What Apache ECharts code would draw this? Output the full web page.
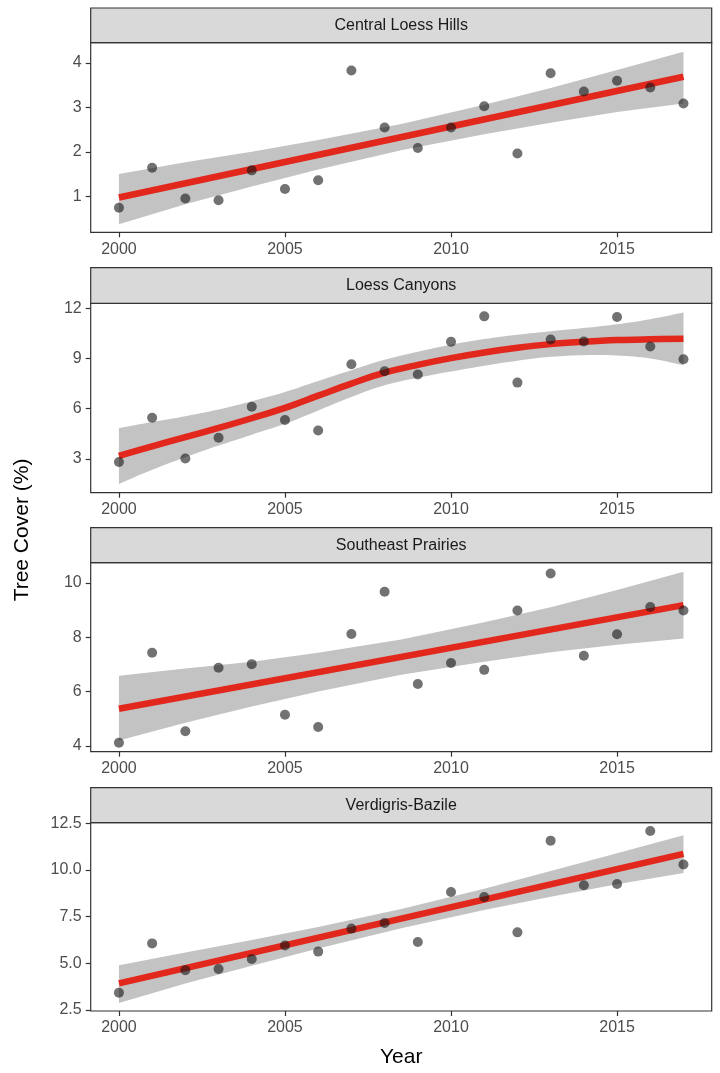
<!DOCTYPE html>
<html><head><meta charset="utf-8">
<script src="https://cdn.jsdelivr.net/npm/echarts@6/dist/echarts.min.js"></script>
<style>html,body{margin:0;padding:0;background:#fff}#c{width:720px;height:1073px}</style>
</head><body><div id="c"></div>
<script>
// ---------- data ----------
const years = [2000,2001,2002,2003,2004,2005,2006,2007,2008,2009,2010,2011,2012,2013,2014,2015,2016,2017];
const panelTitles = ['Central Loess Hills','Loess Canyons','Southeast Prairies','Verdigris-Bazile'];

const centralPoints   = [0.75,1.65,0.96,0.92,1.59,1.17,1.37,3.83,2.55,2.09,2.55,3.03,1.97,3.77,3.36,3.60,3.45,3.09];
const canyonsPoints   = [2.82,5.46,3.02,4.26,6.12,5.32,4.70,8.66,8.24,8.04,10.00,11.52,7.56,10.14,10.02,11.48,9.72,8.96];
const prairiesPoints  = [4.12,7.43,4.54,6.88,7.01,5.15,4.70,8.12,9.67,6.28,7.05,6.80,8.98,10.34,7.32,8.11,9.11,8.98];
const verdigrisPoints = [3.43,6.07,4.63,4.70,5.23,5.96,5.63,6.86,7.16,6.14,8.82,8.55,6.66,11.57,9.18,9.25,12.09,10.29];

// straight trend lines (ends)
const trendYears = [2000, 2017];
const centralTrend   = [0.98, 3.69];
const prairiesTrend  = [5.37, 9.18];
const verdigrisTrend = [3.93, 10.86];

// confidence bands of linear fits
const bandYears = [2000, 2002, 2004, 2006, 2008.5, 2011, 2013, 2015, 2017];
const centralLower   = [0.38, 0.83, 1.23, 1.61, 2.04, 2.40, 2.66, 2.90, 3.09];
const centralUpper   = [1.51, 1.77, 2.01, 2.27, 2.63, 3.06, 3.44, 3.84, 4.25];
const prairiesLower  = [4.20, 4.85, 5.45, 6.00, 6.62, 7.10, 7.45, 7.72, 7.95];
const prairiesUpper  = [6.58, 6.85, 7.10, 7.43, 7.92, 8.55, 9.10, 9.74, 10.41];
const verdigrisLower = [2.88, 3.92, 4.87, 5.80, 6.88, 7.86, 8.56, 9.23, 9.84];
const verdigrisUpper = [4.90, 5.58, 6.25, 6.95, 7.91, 9.00, 9.94, 10.90, 11.86];

// loess curve + band for Loess Canyons (per year)
const canyonsFit   = [3.18,3.75,4.30,4.85,5.43,6.05,6.78,7.50,8.15,8.62,9.02,9.36,9.64,9.86,10.00,10.10,10.15,10.18];
const canyonsLower = [1.50,2.35,3.10,3.80,4.45,5.10,5.90,6.70,7.40,7.85,8.22,8.57,8.87,9.10,9.20,9.18,9.00,8.60];
const canyonsUpper = [4.83,5.20,5.55,5.95,6.45,7.00,7.66,8.30,8.92,9.40,9.82,10.16,10.42,10.63,10.82,11.05,11.35,11.75];

// axis tick values and labels
const xTicks = [2000, 2005, 2010, 2015];
const yTicks = [[1,2,3,4],[3,6,9,12],[4,6,8,10],[2.5,5,7.5,10,12.5]];
const yTickLabels = [['1','2','3','4'],['3','6','9','12'],['4','6','8','10'],['2.5','5.0','7.5','10.0','12.5']];
const yRanges = [[0.2,4.455],[0.98,12.3],[3.79,10.74],[2.45,12.53]];
const xRange = [1999.15, 2017.85];

// ---------- layout ----------
const plotLeft = 90.7, plotRight = 711.7;
const stripTops = [8, 267.7, 527.7, 787.7];
const plotTops = [42.7, 303.3, 562.7, 822.7];
const plotBottoms = [232.3, 492.7, 751.7, 1011];

const panels = [
  {pts: centralPoints, line: {xs: trendYears, ys: centralTrend}, band: {xs: bandYears, lo: centralLower, hi: centralUpper}, smooth: 0},
  {pts: canyonsPoints, line: {xs: years, ys: canyonsFit}, band: {xs: years, lo: canyonsLower, hi: canyonsUpper}, smooth: 0.4},
  {pts: prairiesPoints, line: {xs: trendYears, ys: prairiesTrend}, band: {xs: bandYears, lo: prairiesLower, hi: prairiesUpper}, smooth: 0},
  {pts: verdigrisPoints, line: {xs: trendYears, ys: verdigrisTrend}, band: {xs: bandYears, lo: verdigrisLower, hi: verdigrisUpper}, smooth: 0}
];

const RED = '#e2271c', BAND = '#c3c3c3', AXC = '#333333', LABC = '#4d4d4d';
const FONT = '"Liberation Sans", Arial, Helvetica, sans-serif';

const grid = [], xAxis = [], yAxis = [], series = [], graphic = [];
panels.forEach((p, i) => {
  grid.push({left: plotLeft, width: plotRight - plotLeft, top: plotTops[i], height: plotBottoms[i] - plotTops[i],
    show: true, borderColor: AXC, borderWidth: 1.2, backgroundColor: '#fff'});
  xAxis.push({type: 'value', gridIndex: i, min: xRange[0], max: xRange[1],
    axisLine: {show: false}, splitLine: {show: false},
    axisTick: {show: true, length: 5, lineStyle: {color: AXC, width: 1.2}, customValues: xTicks},
    axisLabel: {show: true, color: LABC, fontSize: 16, fontFamily: FONT, margin: 9, customValues: xTicks,
      formatter: v => String(Math.round(v))}});
  const labs = yTickLabels[i], tv = yTicks[i];
  yAxis.push({type: 'value', gridIndex: i, min: yRanges[i][0], max: yRanges[i][1],
    axisLine: {show: false}, splitLine: {show: false},
    axisTick: {show: true, length: 5, lineStyle: {color: AXC, width: 1.2}, customValues: tv},
    axisLabel: {show: true, color: LABC, fontSize: 16, fontFamily: FONT, margin: 9, customValues: tv,
      formatter: v => { const k = tv.findIndex(t => Math.abs(t - v) < 1e-6); return k >= 0 ? labs[k] : ''; }}});

  // confidence band polygon (corners duplicated so smoothing keeps the ends square)
  const rows = p.band.xs.map((x, k) => [x, p.band.lo[k], p.band.hi[k]]);
  const sm = p.smooth;
  series.push({type: 'custom', xAxisIndex: i, yAxisIndex: i, z: 1, silent: true, clip: true,
    data: rows, encode: {x: 0, y: [1, 2]},
    renderItem: (params, api) => {
      if (params.dataIndex !== 0) return null;
      const up = rows.map(r => api.coord([r[0], r[2]]));
      const lo = rows.map(r => api.coord([r[0], r[1]])).reverse();
      let pts;
      if (sm) {
        pts = [up[0]].concat(up, [up[up.length - 1]], [lo[0]], lo, [lo[lo.length - 1]]);
      } else {
        pts = up.concat(lo);
      }
      return {type: 'polygon', shape: {points: pts, smooth: sm || 0}, style: {fill: BAND}};
    }});
  // fitted line
  series.push({type: 'line', xAxisIndex: i, yAxisIndex: i, z: 2, silent: true, showSymbol: false, symbol: 'none',
    smooth: sm ? sm : false, data: p.line.xs.map((x, k) => [x, p.line.ys[k]]),
    lineStyle: {color: RED, width: 6.5, cap: 'butt'}});
  // points
  series.push({type: 'scatter', xAxisIndex: i, yAxisIndex: i, z: 3, silent: true, symbolSize: 10,
    data: years.map((y, k) => [y, p.pts[k]]), itemStyle: {color: 'rgba(20,20,20,0.75)'}});

  graphic.push({type: 'rect', shape: {x: plotLeft, y: stripTops[i], width: plotRight - plotLeft, height: plotTops[i] - stripTops[i]},
    style: {fill: '#d9d9d9', stroke: AXC, lineWidth: 1.2}, z: 10});
  graphic.push({type: 'text', x: (plotLeft + plotRight) / 2, y: (stripTops[i] + plotTops[i]) / 2,
    style: {text: panelTitles[i], fill: '#1a1a1a', fontSize: 16, fontFamily: FONT, align: 'center', verticalAlign: 'middle'}, z: 11});
});
graphic.push({type: 'text', x: (plotLeft + plotRight) / 2, y: 1057,
  style: {text: 'Year', fill: '#000', fontSize: 21, fontFamily: FONT, align: 'center', verticalAlign: 'middle'}});
graphic.push({type: 'text', x: 22, y: 530, rotation: Math.PI / 2,
  style: {text: 'Tree Cover (%)', fill: '#000', fontSize: 21, fontFamily: FONT, align: 'center', verticalAlign: 'middle'}});

const chart = echarts.init(document.getElementById('c'), null, {renderer: 'canvas'});
chart.setOption({animation: false, backgroundColor: '#fff', grid, xAxis, yAxis, series, graphic});
</script></body></html>
